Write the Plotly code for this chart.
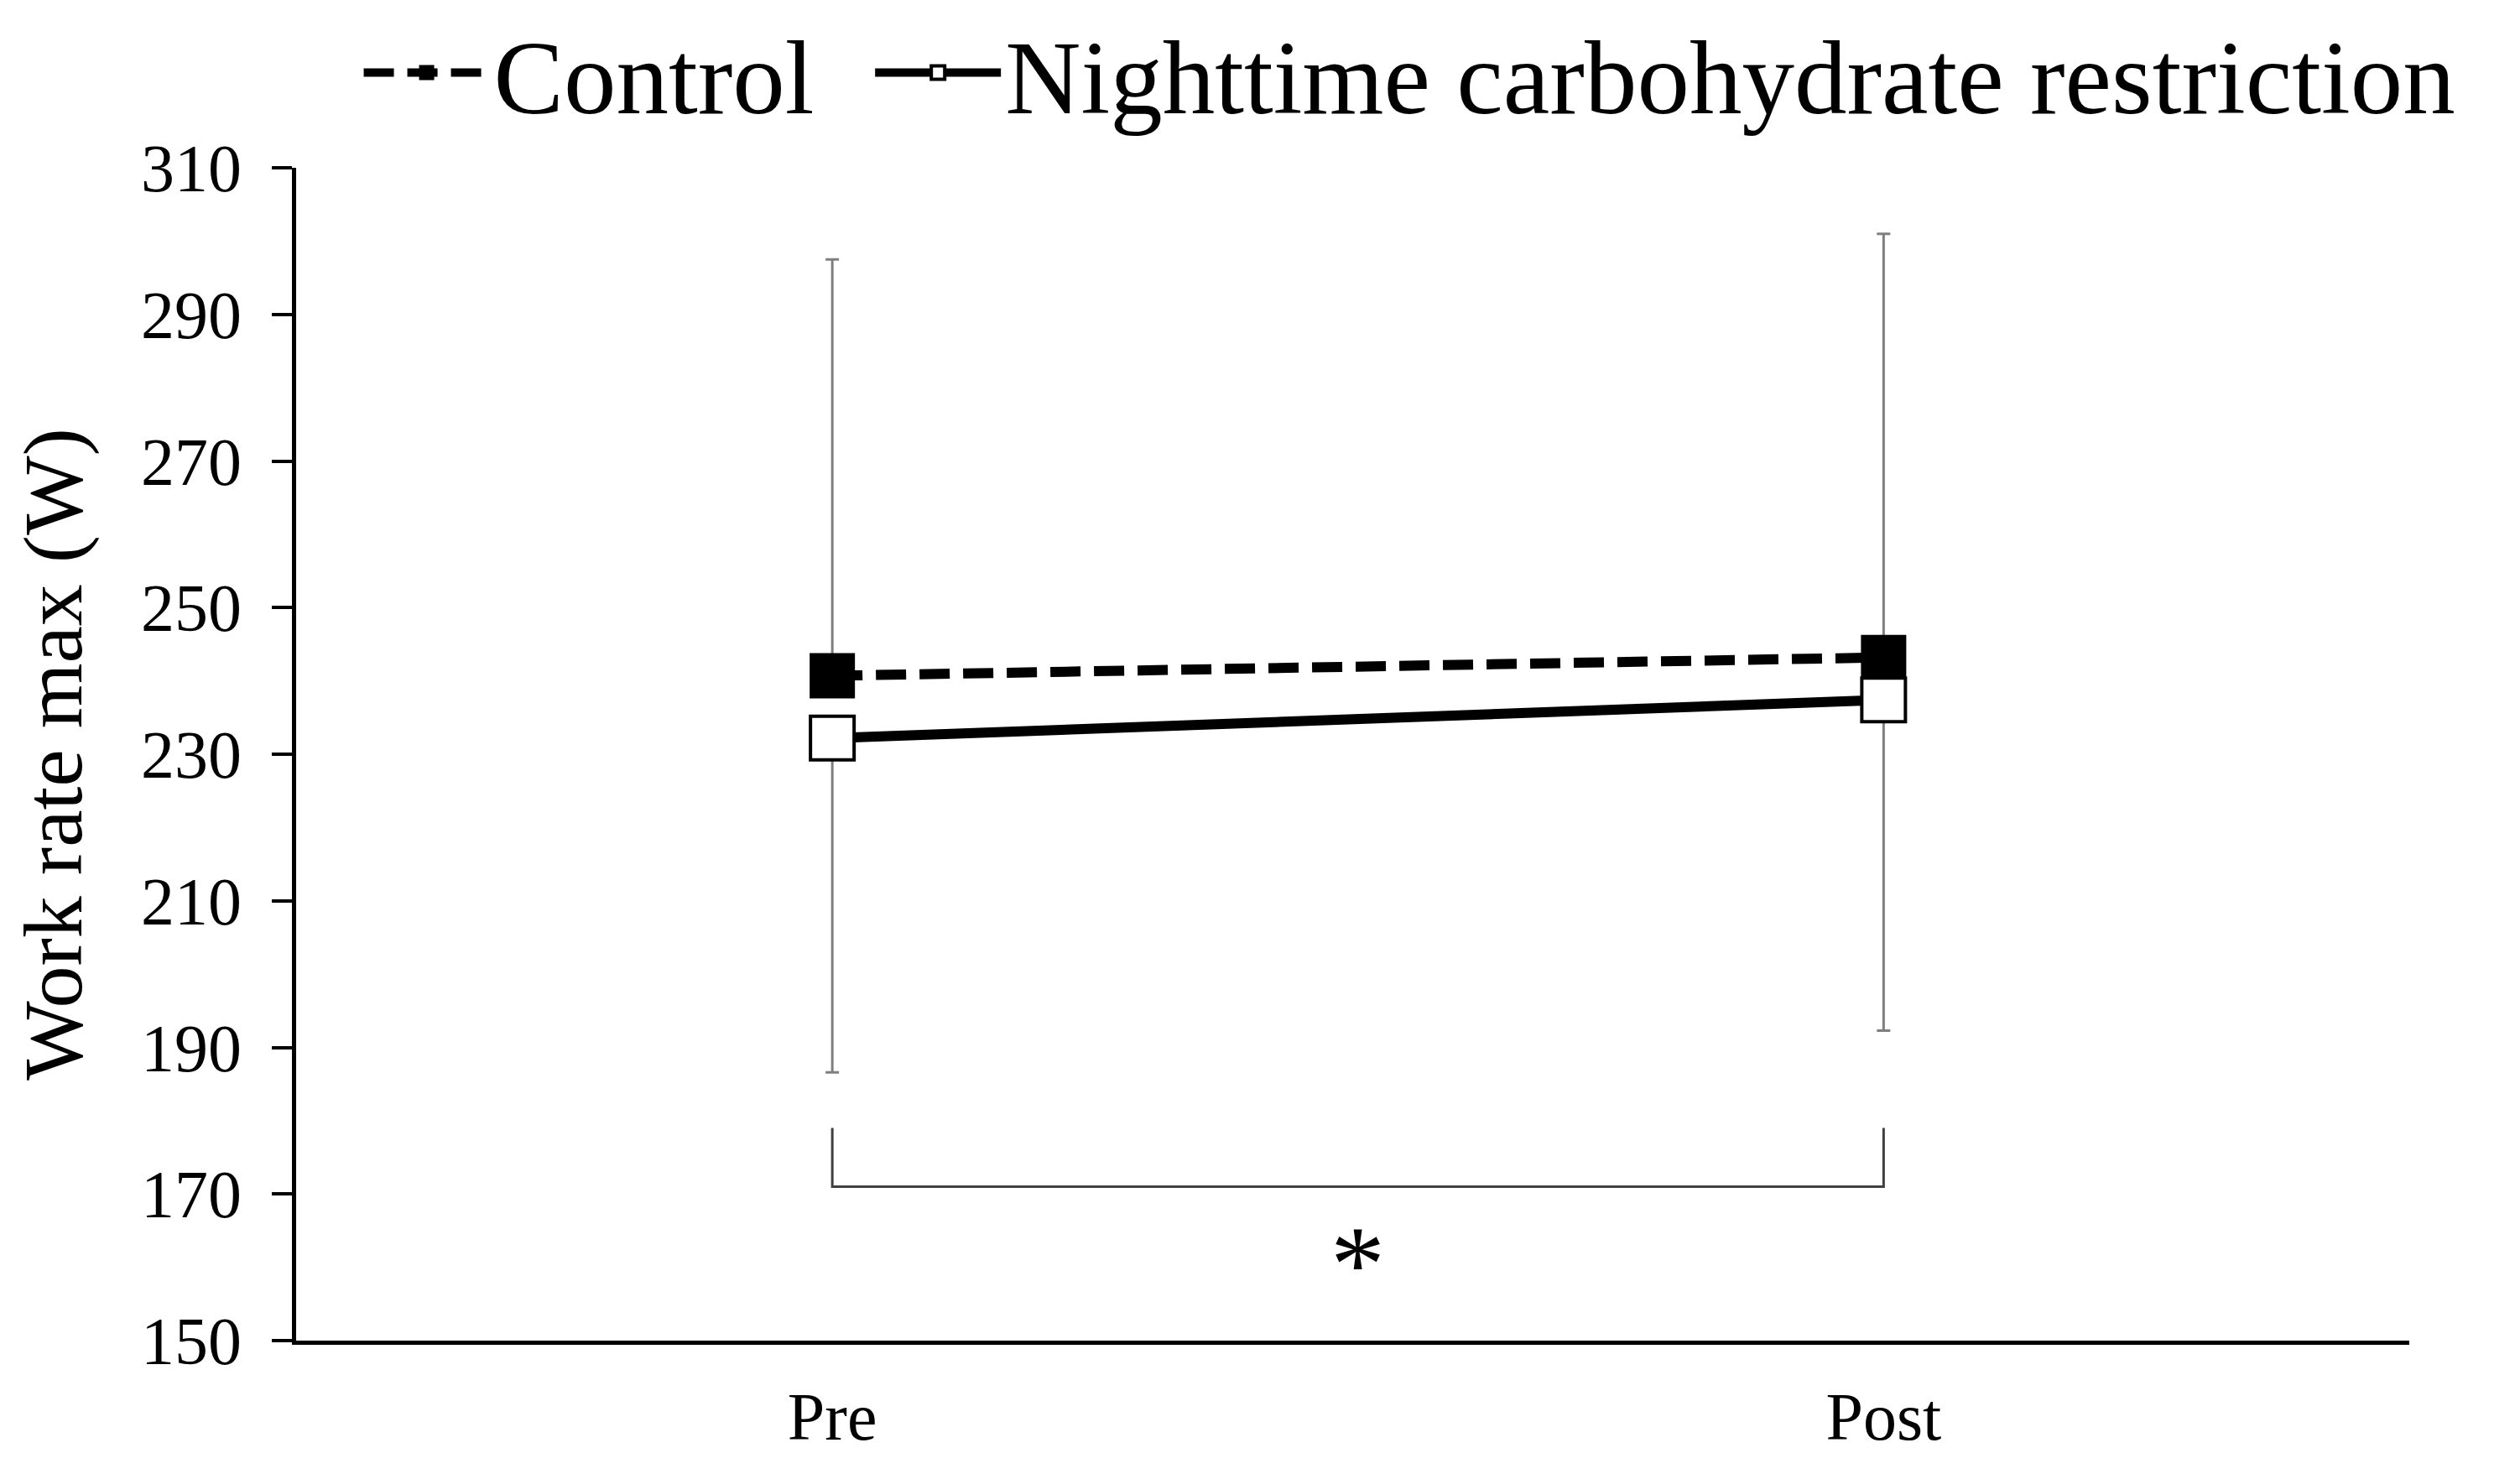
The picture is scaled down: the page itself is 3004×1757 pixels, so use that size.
import plotly.graph_objects as go

# ---- data ----
timepoints = ["Pre", "Post"]
control_mean = [240.7, 243.2]
control_err_plus = [56.8, 57.8]
ncr_mean = [232.2, 237.4]
ncr_err_minus = [45.6, 45.1]
y_ticks = [150, 170, 190, 210, 230, 250, 270, 290, 310]
series_names = ["Control", "Nighttime carbohydrate restriction"]
bracket_low = 171
bracket_high = 179
star_y = 160.5

FONT = "Liberation Serif, Times New Roman, serif"
W, H = 3004, 1757
x_idx = list(range(len(timepoints)))

fig = go.Figure()

fig.add_trace(go.Scatter(
    x=x_idx, y=control_mean, name=series_names[0], mode="lines+markers",
    legend="legend",
    line=dict(color="black", width=12, dash="36px,16px"),
    marker=dict(symbol="square", size=52, color="black",
                line=dict(color="black", width=2)),
    error_y=dict(type="data", symmetric=False, array=control_err_plus,
                 arrayminus=[0] * len(control_err_plus),
                 color="#7f7f7f", thickness=3, width=8),
))
fig.add_trace(go.Scatter(
    x=x_idx, y=ncr_mean, name=series_names[1], mode="lines+markers",
    legend="legend2",
    line=dict(color="black", width=12),
    marker=dict(symbol="square", size=52, color="white",
                line=dict(color="black", width=4)),
    error_y=dict(type="data", symmetric=False, array=[0] * len(ncr_err_minus),
                 arrayminus=ncr_err_minus,
                 color="#7f7f7f", thickness=3, width=8),
))

# significance bracket
fig.add_shape(type="path",
              path=f"M {x_idx[0]},{bracket_high} L {x_idx[0]},{bracket_low} "
                   f"L {x_idx[1]},{bracket_low} L {x_idx[1]},{bracket_high}",
              xref="x", yref="y", line=dict(color="#404040", width=3))
fig.add_annotation(x=(x_idx[0] + x_idx[1]) / 2, y=star_y, text="*",
                   showarrow=False, xref="x", yref="y",
                   font=dict(family=FONT, size=130, color="black"))

legend_common = dict(orientation="h", yanchor="middle", y=1.081,
                     xanchor="left",
                     font=dict(family=FONT, size=125, color="black"),
                     itemsizing="trace", itemwidth=150,
                     bgcolor="rgba(0,0,0,0)")

fig.update_layout(
    width=W, height=H,
    paper_bgcolor="white", plot_bgcolor="white",
    margin=dict(l=345, r=140, t=192, b=167, autoexpand=False),
    font=dict(family=FONT, color="black"),
    showlegend=True,
    legend=dict(x=0.030, **legend_common),
    legend2=dict(x=0.272, **legend_common),
    xaxis=dict(range=[-0.51, 1.5], tickmode="array", tickvals=x_idx,
               ticktext=timepoints, showgrid=False, zeroline=False,
               showline=True, linecolor="black", linewidth=5,
               ticks="", ticklabelstandoff=17,
               tickfont=dict(family=FONT, size=80, color="black")),
    yaxis=dict(range=[150, 310], tickmode="array", tickvals=y_ticks,
               showgrid=False, zeroline=False, showline=True,
               linecolor="black", linewidth=5, ticks="outside", ticklen=24,
               tickwidth=4, tickcolor="black", ticklabelstandoff=20,
               tickfont=dict(family=FONT, size=80, color="black"),
               title=dict(text="Work rate max (W)", standoff=40,
                          font=dict(family=FONT, size=100, color="black"))),
)

fig.write_html("out.html")
